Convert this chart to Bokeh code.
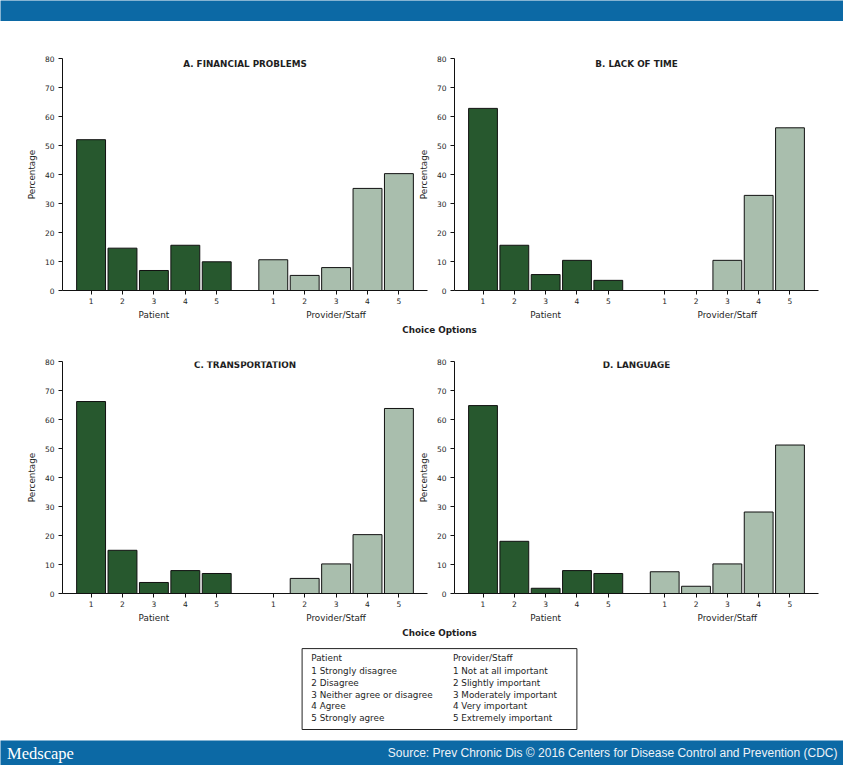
from bokeh.plotting import figure
from bokeh.models import FactorRange, Range1d, FixedTicker, ColumnDataSource
from bokeh.layouts import column, row
from bokeh.embed import file_html
from bokeh.resources import INLINE
from bokeh.core.properties import value

# ---------------- data ----------------
options = ["1", "2", "3", "4", "5"]
groups = ["Patient", "Provider/Staff"]
y_ticks = [0, 10, 20, 30, 40, 50, 60, 70, 80]

titles = ["A. FINANCIAL PROBLEMS", "B. LACK OF TIME", "C. TRANSPORTATION", "D. LANGUAGE"]
a_patient = [52.0, 14.6, 6.9, 15.6, 9.9]
a_provider = [10.6, 5.2, 7.9, 35.2, 40.3]
b_patient = [62.8, 15.6, 5.5, 10.4, 3.5]
b_provider = [0.0, 0.0, 10.4, 32.8, 56.1]
c_patient = [66.2, 14.9, 3.8, 7.9, 6.9]
c_provider = [0.0, 5.2, 10.2, 20.3, 63.8]
d_patient = [64.8, 18.0, 1.8, 7.9, 6.9]
d_provider = [7.5, 2.5, 10.2, 28.1, 51.2]

x_title = "Choice Options"
y_title = "Percentage"
legend_patient = ["Patient", "1 Strongly disagree", "2 Disagree",
                  "3 Neither agree or disagree", "4 Agree", "5 Strongly agree"]
legend_provider = ["Provider/Staff", "1 Not at all important", "2 Slightly important",
                   "3 Moderately important", "4 Very important", "5 Extremely important"]
brand = "Medscape"
source_text = "Source: Prev Chronic Dis \u00a9 2016 Centers for Disease Control and Prevention (CDC)"

# ---------------- style ----------------
DARK = "#27582e"
LIGHT = "#a9bead"
BLUE = "#0c69a5"
BLUE_DARK = "#155b86"
FONT = "DejaVu Sans"
TXT = "#1e1e1e"
GROUP_PAD = 0.8
W = 843


def panel(title, patient, provider, width, b_left, b_right, height, b_top, title_y, margin=None):
    factors = [(g, o) for g in groups for o in options]
    xr = FactorRange(*factors, group_padding=GROUP_PAD, factor_padding=0.0,
                     range_padding=0.41, range_padding_units="absolute")
    p = figure(x_range=xr, y_range=Range1d(0, 80), width=width, height=height,
               output_backend="svg", toolbar_location=None,
               min_border_left=b_left, min_border_right=b_right,
               min_border_top=b_top, min_border_bottom=32)
    if margin is not None:
        p.margin = margin
    p.outline_line_color = None
    p.border_fill_color = None
    p.background_fill_color = None
    p.xgrid.visible = False
    p.ygrid.visible = False

    src = ColumnDataSource(dict(x=factors, top=list(patient) + list(provider),
                                color=[DARK] * len(patient) + [LIGHT] * len(provider)))
    p.vbar(x="x", top="top", width=0.92, source=src, fill_color="color",
           line_color="#111111", line_width=1)

    center = (2 * len(options) + GROUP_PAD) / 2.0
    p.text(x=[center], y=[title_y], text=[title], text_font=value(FONT),
           text_font_style="bold", text_font_size="8.8px", text_color=TXT,
           text_align="center", text_baseline="middle")

    xa = p.xaxis[0]
    xa.axis_line_color = "#111111"
    xa.major_tick_line_color = "#111111"
    xa.major_tick_out = 4
    xa.major_tick_in = 0
    xa.minor_tick_line_color = None
    xa.major_label_text_font = FONT
    xa.major_label_text_font_size = "7.5px"
    xa.major_label_text_color = TXT
    xa.major_label_standoff = 3
    xa.group_text_font = FONT
    xa.group_text_font_size = "8.8px"
    xa.group_text_font_style = "normal"
    xa.group_text_color = TXT
    xa.separator_line_alpha = 0

    ya = p.yaxis[0]
    ya.ticker = FixedTicker(ticks=y_ticks)
    ya.axis_line_color = "#111111"
    ya.major_tick_line_color = "#111111"
    ya.major_tick_out = 4
    ya.major_tick_in = 0
    ya.minor_tick_line_color = None
    ya.major_label_text_font = FONT
    ya.major_label_text_font_size = "7.5px"
    ya.major_label_text_color = TXT
    ya.major_label_standoff = 4
    ya.axis_label = y_title
    ya.axis_label_text_font = FONT
    ya.axis_label_text_font_size = "8.8px"
    ya.axis_label_text_font_style = "normal"
    ya.axis_label_text_color = TXT
    ya.axis_label_standoff = 5
    return p


def blank(height, fill="white", y_range=(0, 1)):
    p = figure(width=W, height=height, x_range=Range1d(0, W), y_range=Range1d(*y_range),
               output_backend="svg", toolbar_location=None, x_axis_type=None, y_axis_type=None,
               min_border=0, min_border_left=0, min_border_right=0,
               min_border_top=0, min_border_bottom=0)
    p.outline_line_color = None
    p.background_fill_color = fill
    p.border_fill_color = fill
    return p


header = blank(21, BLUE)
header_line = blank(2, BLUE_DARK)

pa = panel(titles[0], a_patient, a_provider, 433, 62, 6, 299, 35, 78.0)
pb = panel(titles[1], b_patient, b_provider, 428, 39, 25, 299, 35, 78.0, margin=(0, 0, 0, -18))
pc = panel(titles[2], c_patient, c_provider, 433, 62, 6, 288, 24, 78.76)
pd = panel(titles[3], d_patient, d_provider, 428, 39, 25, 288, 24, 78.76, margin=(0, 0, 0, -18))


def strip(height):
    s = blank(height)
    s.text(x=[439], y=[0.5], text=[x_title], text_font=value(FONT), text_font_style="bold",
           text_font_size="8.8px", text_color=TXT, text_align="center", text_baseline="middle")
    return s


strip1 = strip(15)
strip2 = strip(14)

# legend box (pixel coordinates inside its strip, y downward)
leg = blank(101, "white", y_range=(101, 0))
leg.quad(left=[301.6], right=[576.4], top=[9.1], bottom=[90.0], fill_color=None,
         line_color="#222222", line_width=1)
leg_y = [18.0, 31.3, 43.3, 55.0, 66.7, 78.7]
leg.text(x=[310.8] * len(legend_patient), y=leg_y, text=legend_patient, text_font=value(FONT),
         text_font_size="8.8px", text_color=TXT, text_baseline="middle")
leg.text(x=[452.4] * len(legend_provider), y=leg_y, text=legend_provider, text_font=value(FONT),
         text_font_size="8.8px", text_color=TXT, text_baseline="middle")

footer = blank(25, BLUE, y_range=(25, 0))
footer.text(x=[6.5], y=[12.5], text=[brand], text_font=value("Liberation Serif"),
            text_font_size="16.5px", text_color="white", text_baseline="middle")
footer.text(x=[837], y=[12.5], text=[source_text], text_font=value("Liberation Sans"),
            text_font_size="12px", text_color="#eef3f8", text_align="right",
            text_baseline="middle")

layout = column(header, header_line, row(pa, pb), strip1, row(pc, pd), strip2, leg, footer)

open("out.html", "w").write(file_html(layout, INLINE))
